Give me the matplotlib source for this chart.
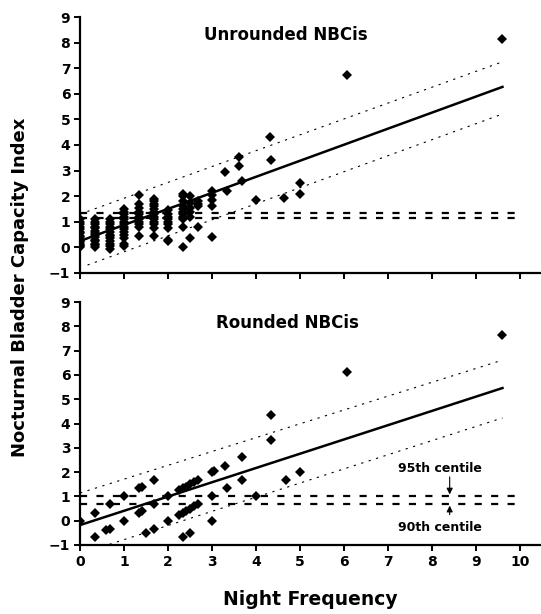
import matplotlib.pyplot as plt
import numpy as np

plt.rcParams['font.family'] = ['DejaVu Sans']
plt.rcParams['font.weight'] = 'bold'

# unrounded NBCi, grouped by night frequency column
unr_cols = {
    0.0: [0.0, 0.05, 0.1, 0.15, 0.2, 0.25, 0.3, 0.4, 0.45, 0.55, 0.6, 0.7, 0.8, 0.9, 1.0, 1.1],
    0.33: [0.0, 0.1, 0.15, 0.25, 0.3, 0.4, 0.5, 0.55, 0.65, 0.75, 0.8, 0.9, 1.0, 1.1],
    0.67: [-0.05, 0.05, 0.15, 0.25, 0.35, 0.45, 0.5, 0.6, 0.7, 0.8, 0.9, 1.0, 1.1],
    1.0: [0.05, 0.15, 0.35, 0.5, 0.6, 0.7, 0.8, 0.9, 1.0, 1.1, 1.2, 1.3, 1.4, 1.5],
    1.33: [0.45, 0.8, 0.9, 1.0, 1.1, 1.2, 1.3, 1.4, 1.55, 1.7, 2.05],
    1.67: [0.45, 0.75, 0.9, 1.0, 1.1, 1.2, 1.3, 1.4, 1.5, 1.6, 1.7, 1.8, 1.9],
    2.0: [0.25, 0.3, 0.75, 0.9, 1.0, 1.1, 1.2, 1.3, 1.45],
    2.33: [0.0, 0.8, 1.1, 1.2, 1.3, 1.4, 1.5, 1.6, 1.8, 2.0, 2.1],
    2.5: [0.35, 1.2, 1.4, 1.55, 1.75, 2.0],
    2.67: [0.8, 1.6, 1.7, 1.8],
    3.0: [0.4, 1.6, 1.85, 2.05, 2.2],
}
unr_x_extra = [3.3, 3.35, 3.62, 3.62, 3.67, 4.0, 4.32, 4.33, 4.63, 5.0, 5.0, 6.07, 9.6]
unr_y_extra = [2.95, 2.2, 3.53, 3.18, 2.6, 1.85, 4.32, 3.43, 1.92, 2.5, 2.08, 6.72, 8.13]

# rounded NBCi
rnd_x = [0.0, 0.33, 0.33, 0.67, 0.6, 0.67, 1.0, 1.0, 1.33, 1.4, 1.33, 1.4, 1.5, 1.67, 1.67, 1.67,
         2.0, 2.0, 2.25, 2.33, 2.4, 2.5, 2.6, 2.67, 2.25, 2.33, 2.4, 2.5, 2.6, 2.67, 2.33, 2.5,
         3.0, 3.05, 3.3, 3.67, 3.0, 3.0, 3.33, 3.67, 4.0, 4.33, 4.33, 4.67, 5.0, 6.07, 9.6]
rnd_y = [0.0, 0.33, -0.67, 0.67, -0.4, -0.33, 1.0, 0.0, 1.33, 1.4, 0.33, 0.4, -0.5, 1.67, 0.67, -0.33,
         1.0, 0.0, 1.25, 1.33, 1.4, 1.5, 1.6, 1.67, 0.25, 0.33, 0.4, 0.5, 0.6, 0.67, -0.67, -0.5,
         2.0, 2.05, 2.25, 2.63, 1.0, 0.0, 1.33, 1.67, 1.0, 4.33, 3.33, 1.67, 2.0, 6.1, 7.64]

# fitted lines and bands (x start/end, y start/end)
unr_fit = ([0.0, 9.6], [0.25, 6.27])
unr_upper = ([0.0, 9.6], [1.3, 7.25])
unr_lower = ([0.17, 9.6], [-0.69, 5.21])
rnd_fit = ([0.0, 9.6], [-0.18, 5.46])
rnd_upper = ([0.0, 9.6], [1.14, 6.61])
rnd_lower = ([0.5, 9.6], [-1.07, 4.23])

unr_centiles = [1.33, 1.13]
rnd_centiles = [1.0, 0.7]

xticks = list(range(0, 11))
yticks = list(range(-1, 10))

fig = plt.figure(figsize=(5.41, 6.14), dpi=100)
ax1 = fig.add_axes([0.148, 0.5554, 0.854, 0.4169])
ax2 = fig.add_axes([0.148, 0.1124, 0.854, 0.3957])

MS = 5.2


def style(ax, show_labels):
    ax.set_xlim(0, 10.5)
    ax.set_ylim(-1, 9)
    ax.set_xticks(xticks)
    ax.set_yticks(yticks)
    for s in ['top', 'right']:
        ax.spines[s].set_visible(False)
    for s in ['left', 'bottom']:
        ax.spines[s].set_linewidth(1.6)
    ax.tick_params(direction='out', length=4, width=1.4, labelsize=10, pad=3)
    if not show_labels:
        ax.set_xticklabels([])
    for lab in ax.get_xticklabels() + ax.get_yticklabels():
        lab.set_fontweight('bold')


def draw(ax, fit, upper, lower, cents):
    for c in cents:
        ax.plot([0, 10], [c, c], color='black', lw=1.6, dashes=(3.2, 4.2))
    ax.plot(*fit, color='black', lw=1.8)
    ax.plot(*upper, color='black', lw=0.8, dashes=(2, 5))
    ax.plot(*lower, color='black', lw=0.8, dashes=(2, 5))


draw(ax1, unr_fit, unr_upper, unr_lower, unr_centiles)
for xv, ys in unr_cols.items():
    ax1.plot([xv] * len(ys), ys, 'D', color='black', ms=MS, mew=0)
ax1.plot(unr_x_extra, unr_y_extra, 'D', color='black', ms=MS, mew=0)
style(ax1, False)
ax1.text(4.67, 8.3, 'Unrounded NBCis', ha='center', va='center', fontsize=12, fontweight='bold')

draw(ax2, rnd_fit, rnd_upper, rnd_lower, rnd_centiles)
ax2.plot(rnd_x, rnd_y, 'D', color='black', ms=MS, mew=0)
style(ax2, True)
ax2.text(4.72, 8.12, 'Rounded NBCis', ha='center', va='center', fontsize=12, fontweight='bold')

arrow = dict(arrowstyle='-|>', color='black', lw=0.8, mutation_scale=9, shrinkA=0, shrinkB=0)
ax2.annotate('', xy=(8.4, 1.08), xytext=(8.4, 1.8), arrowprops=arrow)
ax2.annotate('', xy=(8.4, 0.62), xytext=(8.4, 0.25), arrowprops=arrow)
ax2.text(8.18, 2.13, '95th centile', ha='center', va='center', fontsize=9, fontweight='bold')
ax2.text(8.18, -0.26, '90th centile', ha='center', va='center', fontsize=9, fontweight='bold')

fig.text(0.037, 0.532, 'Nocturnal Bladder Capacity Index', rotation=90,
         ha='center', va='center', fontsize=13, fontweight='bold')
fig.text(0.573, 0.023, 'Night Frequency', ha='center', va='center', fontsize=13.5, fontweight='bold')

fig.savefig('out.png', dpi=100)
